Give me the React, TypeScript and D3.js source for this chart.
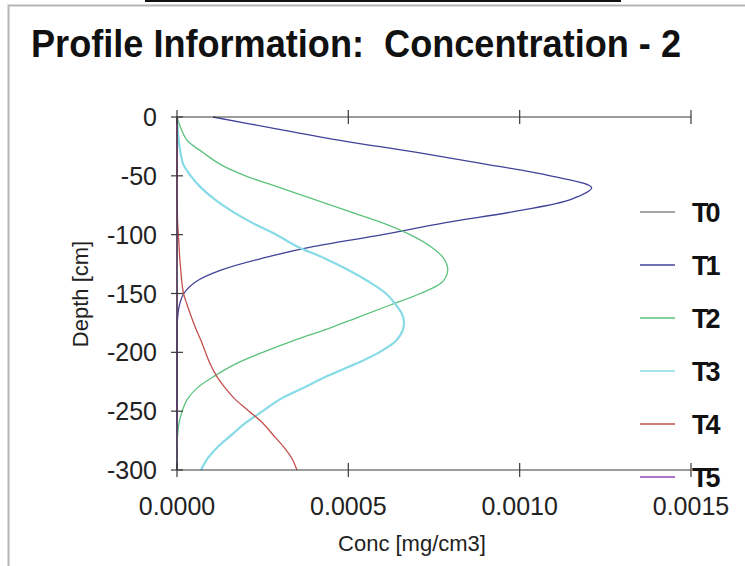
import React from "react";
import * as d3 from "d3";

// Depth levels (cm) shared by every profile
const depths = [
  0, -10, -20, -30, -40, -50, -60, -70, -80, -90, -100, -110, -120, -130, -140,
  -150, -160, -170, -180, -190, -200, -210, -220, -230, -240, -250, -260, -270,
  -280, -290, -300,
];

// Concentration profiles (mg/cm3) at each depth level
const concT0 = [
  0, 0, 0, 0, 0, 0, 0, 0, 0, 0, 0, 0, 0, 0, 0, 0, 0, 0, 0, 0, 0, 0, 0, 0, 0, 0,
  0, 0, 0, 0, 0,
];
const concT1 = [
  0.000105, 0.00029, 0.00048, 0.0007, 0.0009, 0.00109, 0.00121, 0.00115,
  0.00099, 0.00078, 0.0006, 0.0004, 0.00025, 0.00013, 0.000055, 0.00002,
  0.000007, 0.000002, 0, 0, 0, 0, 0, 0, 0, 0, 0, 0, 0, 0, 0,
];
const concT2 = [
  0, 0.000012, 0.00003, 0.000075, 0.000125, 0.0002, 0.0003, 0.0004, 0.0005,
  0.0006, 0.00068, 0.00074, 0.000778, 0.00079, 0.000775, 0.00071, 0.00062,
  0.00053, 0.00044, 0.00034, 0.00025, 0.00017, 0.00011, 0.00006, 0.00003,
  0.000015, 0.000006, 0.000002, 0, 0, 0,
];
const concT3 = [
  0, 0.000002, 0.000005, 0.00001, 0.000018, 0.00004, 0.00007, 0.00011, 0.00016,
  0.00022, 0.00029, 0.00035, 0.00043, 0.0005, 0.00056, 0.00061, 0.00064,
  0.00066, 0.00066, 0.00064, 0.00059, 0.00052, 0.00044, 0.00037, 0.0003,
  0.00025, 0.0002, 0.00016, 0.00012, 0.00009, 0.00007,
];
const concT4 = [
  0, 0, 0, 0, 0, 0, 0, 0, 0.000001, 0.000002, 0.000004, 0.000006, 0.000008,
  0.000011, 0.000014, 0.000019, 0.00003, 0.000042, 0.000055, 0.00007,
  0.000083, 0.000097, 0.000115, 0.00014, 0.00017, 0.00021, 0.00025, 0.00028,
  0.00031, 0.000335, 0.00035,
];
const concT5 = [
  0, 0, 0, 0, 0, 0, 0, 0, 0, 0, 0, 0, 0, 0, 0, 0, 0, 0, 0, 0, 0, 0, 0, 0, 0, 0,
  0, 0, 0, 0, 0,
];

const seriesNames = ["T0", "T1", "T2", "T3", "T4", "T5"];
const seriesValues = [concT0, concT1, concT2, concT3, concT4, concT5];
const seriesColors = ["#8a8a8a", "#42429a", "#5cc27e", "#86dbe6", "#c4504c", "#9444b4"];
const seriesWidths = [1.2, 1.3, 1.3, 2.2, 1.3, 1.2];

const xTicks = [0, 0.0005, 0.001, 0.0015];
const yTicks = [0, -50, -100, -150, -200, -250, -300];

const title = "Profile Information:  Concentration - 2";
const xLabel = "Conc [mg/cm3]";
const yLabel = "Depth [cm]";

const W = 745;
const H = 566;
const font = "'Liberation Sans', Arial, sans-serif";

export default function App() {
  const x = d3.scaleLinear().domain([0, 0.0015]).range([177, 691]);
  const y = d3.scaleLinear().domain([0, -300]).range([117, 470]);

  const line = d3
    .line<[number, number]>()
    .x((d) => x(d[1]))
    .y((d) => y(d[0]))
    .curve(d3.curveCatmullRom.alpha(0.5));

  const axisColor = "#3a3a3a";
  const [x0, x1] = x.range();
  const [y0, y1] = y.range();

  return (
    <svg
      width={W}
      height={H}
      viewBox={`0 0 ${W} ${H}`}
      style={{ position: "absolute", left: 0, top: 0, background: "#fff" }}
    >
      <rect x={0} y={0} width={W} height={H} fill="#fff" />
      {/* strip along the top edge */}
      <rect x={145} y={0} width={476} height={2} fill="#111" />
      {/* panel frame */}
      <rect x={8.5} y={5.5} width={W + 20} height={H + 20} fill="none" stroke="#b5b5b5" strokeWidth={2} />

      <text
        x={31}
        y={57}
        fontFamily={font}
        fontWeight="bold"
        fontSize={38}
        fill="#111"
        textLength={650}
        lengthAdjust="spacingAndGlyphs"
        style={{ whiteSpace: "pre" }}
      >
        {title}
      </text>

      {/* profiles */}
      {seriesValues.map((vals, i) => (
        <path
          key={seriesNames[i]}
          d={line(depths.map((d, j) => [d, vals[j]] as [number, number])) || ""}
          fill="none"
          stroke={seriesColors[i]}
          strokeWidth={seriesWidths[i]}
          strokeLinejoin="round"
        />
      ))}

      {/* frame lines */}
      <line x1={x0} x2={x1} y1={y0} y2={y0} stroke={axisColor} strokeWidth={1.2} />
      <line x1={x0} x2={x1} y1={y1} y2={y1} stroke={axisColor} strokeWidth={1.2} />
      <line x1={x0} x2={x0} y1={y0} y2={y1} stroke={axisColor} strokeWidth={1.2} />

      {/* x ticks, top and bottom */}
      {xTicks.map((t) => (
        <g key={`xt${t}`}>
          <line x1={x(t)} x2={x(t)} y1={y0 - 7} y2={y0 + 7} stroke={axisColor} strokeWidth={1.2} />
          <line x1={x(t)} x2={x(t)} y1={y1 - 7} y2={y1 + 7} stroke={axisColor} strokeWidth={1.2} />
          <text
            x={x(t)}
            y={y1 + 45}
            textAnchor="middle"
            fontFamily={font}
            fontSize={25}
            fill="#222"
          >
            {d3.format(".4f")(t)}
          </text>
        </g>
      ))}

      {/* y ticks */}
      {yTicks.map((t) => (
        <g key={`yt${t}`}>
          <line x1={x0 - 6} x2={x0 + 6} y1={y(t)} y2={y(t)} stroke={axisColor} strokeWidth={1.2} />
          <text
            x={x0 - 20}
            y={y(t)}
            dy="0.36em"
            textAnchor="end"
            fontFamily={font}
            fontSize={25}
            fill="#222"
          >
            {t}
          </text>
        </g>
      ))}

      <text
        x={412}
        y={551}
        textAnchor="middle"
        fontFamily={font}
        fontSize={22}
        fill="#222"
      >
        {xLabel}
      </text>
      <text
        transform={`translate(88, 294) rotate(-90)`}
        textAnchor="middle"
        fontFamily={font}
        fontSize={22}
        fill="#222"
      >
        {yLabel}
      </text>

      {/* legend */}
      {seriesNames.map((name, i) => {
        const ly = 212 + i * 53;
        return (
          <g key={`lg${name}`}>
            <line x1={640} x2={675} y1={ly} y2={ly} stroke={seriesColors[i]} strokeWidth={1.4} />
            <text
              x={692}
              y={ly}
              dy="0.36em"
              fontFamily={font}
              fontWeight="bold"
              fontSize={27}
              letterSpacing={-3}
              fill="#111"
            >
              {name}
            </text>
          </g>
        );
      })}
    </svg>
  );
}
